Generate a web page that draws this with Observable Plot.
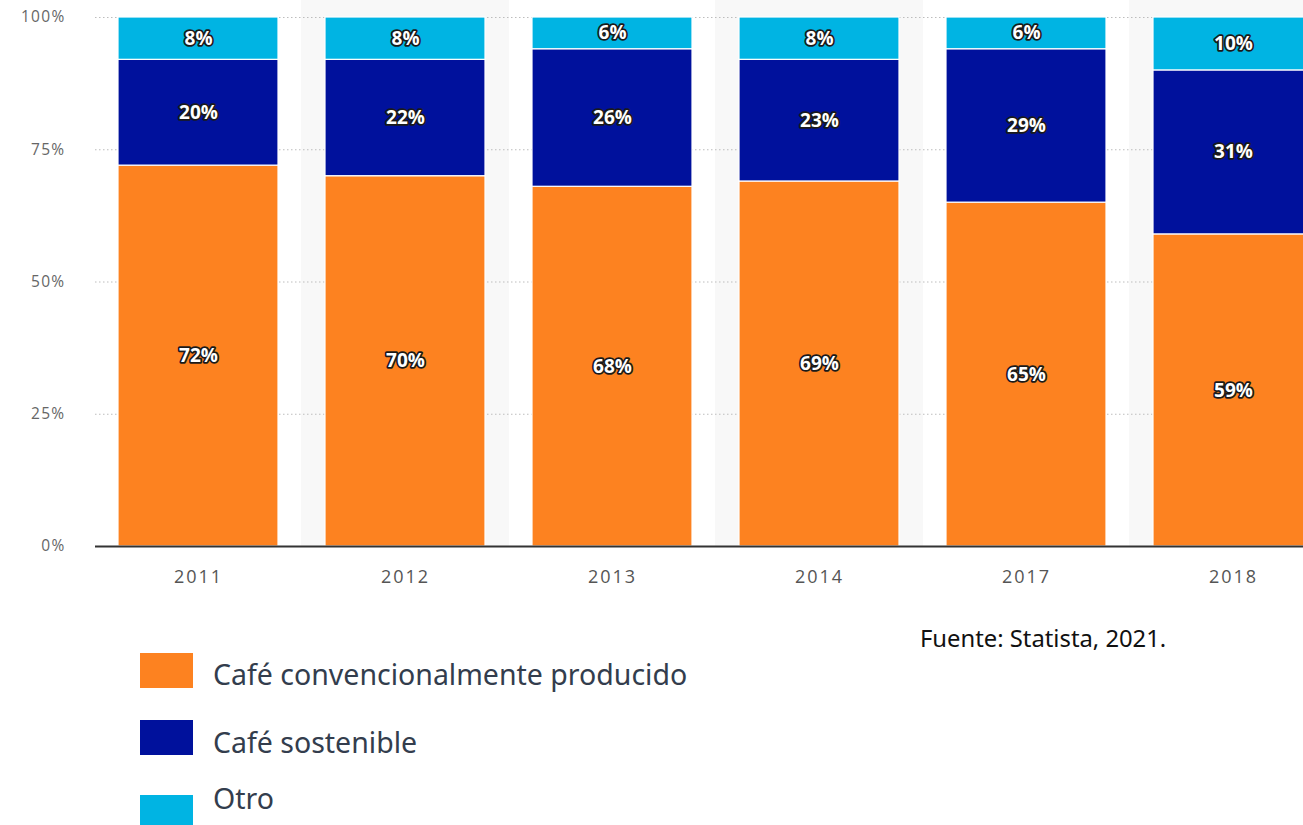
<!DOCTYPE html>
<html>
<head>
<meta charset="utf-8">
<script src="https://cdn.jsdelivr.net/npm/d3@7"></script>
<script src="https://cdn.jsdelivr.net/npm/@observablehq/plot@0.6"></script>
<style>
  html, body { margin: 0; padding: 0; background: #fff; overflow: hidden; width: 1303px; height: 825px; }
  #wrap { position: relative; width: 1303px; height: 825px; overflow: hidden; }
  #chart svg { display: block; max-width: none !important; }
  .leg-sw { position: absolute; left: 140px; width: 53px; height: 35px; }
  .leg-tx { position: absolute; left: 213px; font-family: "Noto Sans", sans-serif; font-size: 28.5px; color: #333d4d; line-height: 1; white-space: nowrap; }
  #src { position: absolute; left: 920px; top: 627px; font-family: "Noto Sans", sans-serif; font-size: 23.8px; color: #111; line-height: 1; white-space: nowrap; }
</style>
</head>
<body>
<div id="wrap">
  <div id="chart"></div>
  <div id="legend"></div>
  <div id="src">Fuente: Statista, 2021.</div>
</div>
<script>
const years = ["2011", "2012", "2013", "2014", "2017", "2018"];
const convencional = [72, 70, 68, 69, 65, 59];
const sostenible = [20, 22, 26, 23, 29, 31];
const otro = [8, 8, 6, 8, 6, 10];
const seriesNames = ["Café convencionalmente producido", "Café sostenible", "Otro"];
const seriesColors = ["#fd8220", "#00119c", "#00b4e3"];
const yTicks = [0, 25, 50, 75, 100];
const shadedYears = ["2012", "2014", "2018"];

const seriesValues = [convencional, sostenible, otro];
const data = [];
years.forEach((year, i) => {
  seriesNames.forEach((s, j) => {
    data.push({ year, series: s, value: seriesValues[j][i] });
  });
});

const chart = Plot.plot({
  width: 1337,
  height: 600,
  marginLeft: 95,
  marginRight: 0,
  marginTop: 17,
  marginBottom: 54,
  style: { fontFamily: "'Open Sans', sans-serif", background: "transparent", overflow: "visible", maxWidth: "none" },
  x: { domain: years, paddingInner: 0.226, paddingOuter: 0.113, label: null },
  y: { domain: [0, 100], label: null },
  color: { domain: seriesNames, range: seriesColors },
  marks: [
    Plot.barY(shadedYears, { x: d => d, y1: 0, y2: 100, fill: "#f8f8f8", insetLeft: -24, insetRight: -24, insetTop: -17 }),
    Plot.ruleY(yTicks.filter(d => d > 0), { stroke: "#bdbdbd", strokeWidth: 1, strokeDasharray: "1.5,2.5" }),
    Plot.barY(data, { x: "year", y: "value", fill: "series", stroke: "white", strokeWidth: 1.2 }),
    Plot.text(data, Plot.stackY({ x: "year", y: "value", text: d => d.value + "%", fill: "white", stroke: "#1a1a1a", strokeWidth: 3.5, fontWeight: "bold", fontSize: 19 })),
    Plot.ruleY([0], { stroke: "#333", strokeWidth: 2 }),
    Plot.axisY({ ticks: yTicks, tickFormat: d => d + "%", tickSize: 0, tickPadding: 30, fontSize: 15.5, fill: "#666" }),
    Plot.axisX({ tickSize: 0, tickPadding: 24, fontSize: 18, fill: "#555" })
  ]
});
d3.select(chart).selectAll("[aria-label='y-axis tick label'] text").style("letter-spacing", "1.3px");
d3.select(chart).selectAll("[aria-label='x-axis tick label'] text").style("letter-spacing", "2px");
document.getElementById("chart").appendChild(chart);

const legend = document.getElementById("legend");
const swTops = [653, 720, 795];
const txTops = [660, 728, 784];
seriesNames.forEach((s, i) => {
  const sw = document.createElement("div");
  sw.className = "leg-sw";
  sw.style.top = swTops[i] + "px";
  sw.style.background = seriesColors[i];
  legend.appendChild(sw);
  const tx = document.createElement("div");
  tx.className = "leg-tx";
  tx.style.top = txTops[i] + "px";
  tx.textContent = s;
  legend.appendChild(tx);
});
</script>
</body>
</html>
